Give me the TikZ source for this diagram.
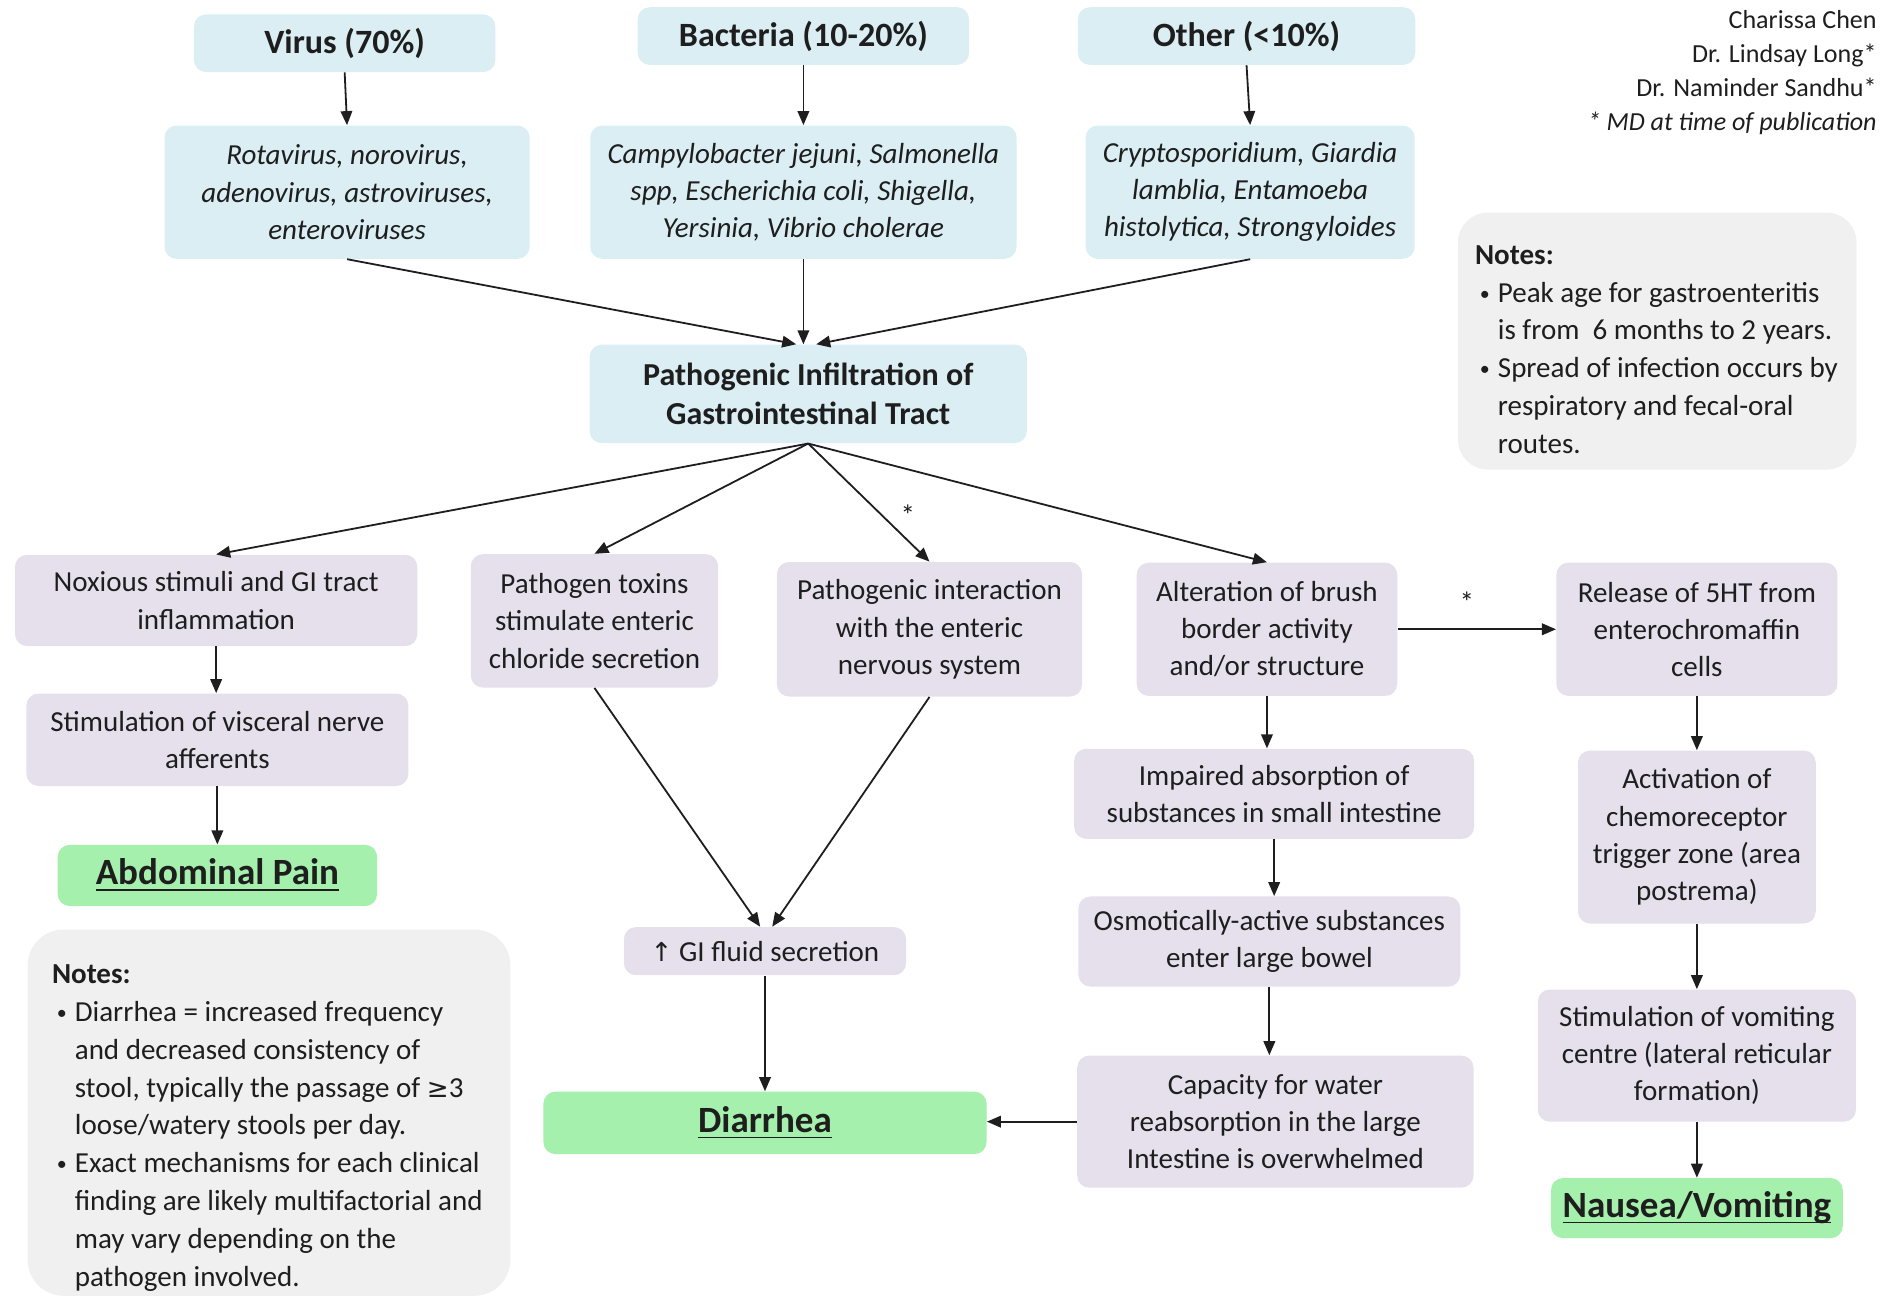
\documentclass[tikz,border=0pt]{standalone}
\usepackage{fontspec}
\setmainfont{Carlito}
\newfontfamily\symbolfont{DejaVu Sans}[Scale=0.9]
\usepackage{amsmath}
\usepackage{tikz}
\usetikzlibrary{arrows.meta}
\definecolor{ink}{HTML}{1E1E1E}
\definecolor{agentfill}{HTML}{DAEEF3}
\definecolor{mechfill}{HTML}{E5E0EC}
\definecolor{outcomefill}{HTML}{A5F0AC}
\definecolor{notefill}{HTML}{F0F0F0}
\newcommand{\notebul}{\makebox[11.4pt][l]{\hspace{2.4pt}\raisebox{1pt}{\fontsize{10}{10}\selectfont\textbullet}}}
\newcommand{\noteind}{\hspace*{11.4pt}}

\begin{document}
\begin{tikzpicture}[x=0.6pt, y=-0.6pt, font=\fontsize{14.5}{18.6}\selectfont, text=ink,
		box/.style={rounded corners=6pt, align=center, inner sep=0pt},
		agent/.style={box, fill=agentfill},
		mech/.style={box, fill=mechfill},
		head/.style={agent, font=\fontsize{17}{20}\selectfont\bfseries},
		species/.style={agent, font=\fontsize{14.5}{18.6}\selectfont\itshape},
		outcome/.style={box, fill=outcomefill, font=\fontsize{18.5}{22}\selectfont\bfseries},
		note/.style={anchor=north west, align=left, inner sep=0pt, font=\fontsize{14.5}{18.9}\selectfont},
		flow/.style={draw=ink, line width=0.9pt, -{Triangle[length=7pt,width=5.8pt]}}]
	\useasboundingbox (0,0) rectangle (1568,1080);

	\node[head, minimum width=150.6pt, minimum height=28.8pt] (virus) at (287,36) {Virus (70\%)};
	\node[head, minimum width=165.6pt, minimum height=28.8pt] (bacteria) at (669,30) {Bacteria (10-20\%)};
	\node[head, minimum width=168.6pt, minimum height=28.8pt] (other) at (1038,30) {Other (<10\%)};
	\node[species, minimum width=182.4pt, minimum height=66.6pt] (virusspp) at (289,160)
		{Rotavirus, norovirus,\\ adenovirus, astroviruses,\\ enteroviruses};
	\node[species, minimum width=213pt, minimum height=66.6pt] (bacteriaspp) at (669,160)
		{Campylobacter jejuni, Salmonella\\ spp, Escherichia coli, Shigella,\\ Yersinia, Vibrio cholerae};
	\node[species, minimum width=164.4pt, minimum height=66.6pt] (otherspp) at (1041,160)
		{Cryptosporidium, Giardia\\ lamblia, Entamoeba\\ histolytica, Strongyloides};
	\node[agent, font=\fontsize{16}{19.8}\selectfont\bfseries, minimum width=218.4pt, minimum height=49.2pt] (infiltration) at (673,328)
		{Pathogenic Infiltration of\\ Gastrointestinal Tract};

	\node[mech, minimum width=201pt, minimum height=45.6pt] (noxious) at (180,500) {Noxious stimuli and GI tract\\ inflammation};
	\node[mech, minimum width=123.6pt, minimum height=66.6pt] (toxins) at (495,517) {Pathogen toxins\\ stimulate enteric\\ chloride secretion};
	\node[mech, minimum width=152.4pt, minimum height=67.2pt] (enteric) at (774,524) {Pathogenic interaction\\ with the enteric\\ nervous system};
	\node[mech, minimum width=130.2pt, minimum height=66.6pt] (brush) at (1055,524) {Alteration of brush\\ border activity\\ and/or structure};
	\node[mech, minimum width=140.4pt, minimum height=66.6pt] (serotonin) at (1413,524) {Release of 5HT from\\ enterochromaffin\\ cells};

	\node[mech, minimum width=190.8pt, minimum height=46.2pt] (visceral) at (181,616) {Stimulation of visceral nerve\\ afferents};
	\node[outcome, minimum width=159.6pt, minimum height=30.6pt] (pain) at (181,729) {\underline{Abdominal Pain}};
	\node[mech, minimum width=141pt, minimum height=24pt] (fluid) at (637,792) {{\symbolfont ↑} GI fluid secretion};
	\node[outcome, minimum width=221.4pt, minimum height=31.2pt] (diarrhea) at (637,935) {\underline{Diarrhea}};

	\node[mech, minimum width=199.8pt, minimum height=45pt] (absorption) at (1061,661) {Impaired absorption of\\ substances in small intestine};
	\node[mech, minimum width=190.8pt, minimum height=45pt] (osmotic) at (1057,784) {Osmotically-active substances\\ enter large bowel};
	\node[mech, minimum width=198pt, minimum height=66pt] (capacity) at (1062,934) {Capacity for water\\ reabsorption in the large\\ Intestine is overwhelmed};

	\node[mech, minimum width=118.8pt, minimum height=86.4pt] (ctz) at (1413,697) {Activation of\\ chemoreceptor\\ trigger zone (area\\ postrema)};
	\node[mech, minimum width=159pt, minimum height=66pt] (vomcentre) at (1413,879) {Stimulation of vomiting\\ centre (lateral reticular\\ formation)};
	\node[outcome, minimum width=145.8pt, minimum height=30pt] (nausea) at (1413,1006) {\underline{\smash[b]{Nausea/Vomiting}}};

	\fill[notefill, rounded corners=15pt] (1214,177) rectangle (1546,391);
	\node[note] (notesright) at (1228,204) {\textbf{Notes:}\\
		\notebul Peak age for gastroenteritis\\
		\noteind is from \ 6 months to 2 years.\\
		\notebul Spread of infection occurs by\\
		\noteind respiratory and fecal-oral\\
		\noteind routes.};
	\fill[notefill, rounded corners=18pt] (23,774) rectangle (425,1079);
	\node[note] (notesleft) at (43,803) {\textbf{Notes:}\\
		\notebul Diarrhea = increased frequency\\
		\noteind and decreased consistency of\\
		\noteind stool, typically the passage of {\symbolfont ≥}3\\
		\noteind loose/watery stools per day.\\
		\notebul Exact mechanisms for each clinical\\
		\noteind finding are likely multifactorial and\\
		\noteind may vary depending on the\\
		\noteind pathogen involved.};

	\node[anchor=north east, align=right, inner sep=0pt, font=\fontsize{13}{17}\selectfont] (authors) at (1563,8)
		{Charissa Chen\\ Dr. Lindsay Long*\\ Dr. Naminder Sandhu*\\ \textit{* MD at time of publication}};

	\draw[flow] (virus.south) -- (virusspp.north);
	\draw[flow] (bacteria.south) -- (bacteriaspp.north);
	\draw[flow] (other.south) -- (otherspp.north);
	\draw[flow] (virusspp.south) -- ([xshift=-6pt]infiltration.north);
	\draw[flow] (bacteriaspp.south) -- (bacteriaspp.south |- infiltration.north);
	\draw[flow] (otherspp.south) -- ([xshift=4pt]infiltration.north);
	\draw[flow] (infiltration.south) -- (noxious.north);
	\draw[flow] (infiltration.south) -- (toxins.north);
	\draw[flow] (infiltration.south) -- node[pos=0.73, above right=1.5pt, inner sep=0pt] (starenteric) {*} (enteric.north);
	\draw[flow] (infiltration.south) -- (brush.north);
	\draw[flow] (brush.east) -- node[above=8pt, xshift=-5pt, inner sep=0pt] (starserotonin) {*} (serotonin.west);
	\draw[flow] (noxious.south) -- (noxious.south |- visceral.north);
	\draw[flow] (visceral.south) -- (visceral.south |- pain.north);
	\draw[flow] (toxins.south) -- ([xshift=-2.4pt]fluid.north);
	\draw[flow] (enteric.south) -- ([xshift=3.6pt]fluid.north);
	\draw[flow] (fluid.south) -- (diarrhea.north);
	\draw[flow] (brush.south) -- (brush.south |- absorption.north);
	\draw[flow] (absorption.south) -- (absorption.south |- osmotic.north);
	\draw[flow] (osmotic.south) -- (osmotic.south |- capacity.north);
	\draw[flow] (capacity.west) -- (capacity.west -| diarrhea.east);
	\draw[flow] (serotonin.south) -- (ctz.north);
	\draw[flow] (ctz.south) -- (vomcentre.north);
	\draw[flow] (vomcentre.south) -- (nausea.north);
\end{tikzpicture}
\end{document}
